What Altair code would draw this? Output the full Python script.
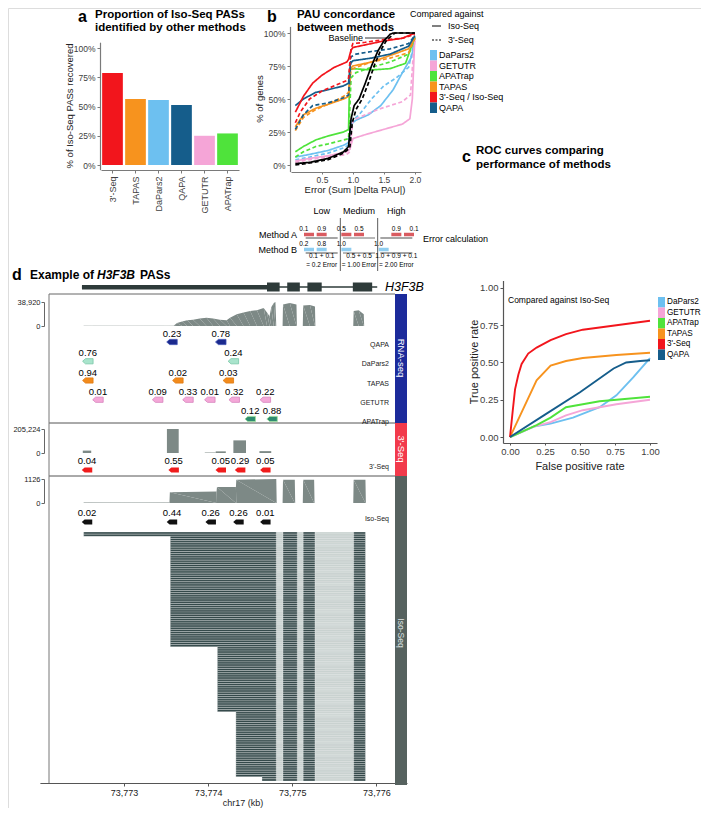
import altair as alt
import pandas as pd

W, H = 693, 800
FONT = "Liberation Sans"


def P(v):
    # page pixel -> chart pixel (page has an 8px margin)
    return v - 8


# ======================= DATA =======================
# (a) proportion of Iso-Seq PASs identified by other methods
a_methods = ["3'-Seq", "TAPAS", "DaPars2", "QAPA", "GETUTR", "APATrap"]
a_recovered = [0.786, 0.564, 0.556, 0.513, 0.25, 0.27]

legend_b = ["DaPars2", "GETUTR", "APATrap", "TAPAS", "3'-Seq / Iso-Seq", "QAPA"]
legend_c = ["DaPars2", "GETUTR", "APATrap", "TAPAS", "3'-Seq", "QAPA"]
method_colors = ["#6dc0f0", "#f5a5d7", "#4fe33b", "#f7931e", "#f2151c", "#155d8b"]

# (b) PAU concordance: cumulative share of genes vs error
b_3seq_iso_x = [0.07, 0.2, 0.35, 0.5, 0.7, 0.9, 0.93, 0.97, 1.0, 1.2, 1.5, 1.8, 2.0]
b_3seq_iso_y = [0.40, 0.52, 0.62, 0.68, 0.74, 0.78, 0.80, 0.87, 0.89, 0.91, 0.94, 0.96, 1.0]
b_3seq_3seq_x = [0.07, 0.15, 0.3, 0.5, 0.7, 0.9, 0.93, 0.97, 1.0, 1.2, 1.5, 1.8, 2.0]
b_3seq_3seq_y = [0.32, 0.40, 0.50, 0.56, 0.60, 0.64, 0.66, 0.88, 0.92, 0.93, 0.95, 0.96, 0.99]
b_qapa_iso_x = [0.07, 0.2, 0.4, 0.6, 0.85, 0.93, 0.96, 1.0, 1.3, 1.6, 1.9, 2.0]
b_qapa_iso_y = [0.45, 0.50, 0.55, 0.57, 0.60, 0.62, 0.77, 0.79, 0.81, 0.84, 0.90, 0.98]
b_qapa_3seq_x = [0.07, 0.2, 0.35, 0.6, 0.85, 0.93, 0.97, 1.05, 1.3, 1.6, 1.9, 2.0]
b_qapa_3seq_y = [0.27, 0.38, 0.45, 0.47, 0.51, 0.53, 0.82, 0.84, 0.86, 0.88, 0.92, 0.98]
b_tapas_iso_x = [0.07, 0.2, 0.4, 0.6, 0.85, 0.93, 0.96, 1.0, 1.3, 1.6, 1.9, 2.0]
b_tapas_iso_y = [0.29, 0.38, 0.43, 0.46, 0.50, 0.52, 0.73, 0.75, 0.78, 0.83, 0.88, 0.96]
b_tapas_3seq_x = [0.07, 0.2, 0.4, 0.6, 0.85, 0.93, 0.97, 1.05, 1.3, 1.6, 1.9, 2.0]
b_tapas_3seq_y = [0.26, 0.36, 0.42, 0.46, 0.52, 0.55, 0.72, 0.74, 0.78, 0.81, 0.85, 0.96]
b_apatrap_iso_x = [0.07, 0.2, 0.4, 0.6, 0.85, 0.93, 0.95, 1.0, 1.3, 1.6, 1.85, 2.0]
b_apatrap_iso_y = [0.10, 0.14, 0.19, 0.22, 0.25, 0.27, 0.72, 0.73, 0.72, 0.73, 0.77, 0.97]
b_apatrap_3seq_x = [0.07, 0.2, 0.4, 0.6, 0.85, 0.93, 0.97, 1.05, 1.3, 1.6, 1.9, 2.0]
b_apatrap_3seq_y = [0.06, 0.10, 0.14, 0.16, 0.19, 0.20, 0.66, 0.70, 0.74, 0.78, 0.84, 0.96]
b_dapars_iso_x = [0.07, 0.3, 0.6, 0.85, 0.93, 0.97, 1.05, 1.25, 1.45, 1.65, 1.8, 1.95, 2.0]
b_dapars_iso_y = [0.06, 0.08, 0.11, 0.15, 0.17, 0.31, 0.34, 0.38, 0.45, 0.57, 0.70, 0.82, 0.97]
b_dapars_3seq_x = [0.07, 0.3, 0.6, 0.85, 0.93, 0.97, 1.1, 1.3, 1.5, 1.7, 1.9, 2.0]
b_dapars_3seq_y = [0.04, 0.06, 0.09, 0.13, 0.15, 0.33, 0.38, 0.50, 0.60, 0.66, 0.74, 0.95]
b_getutr_iso_x = [0.07, 0.3, 0.6, 0.9, 0.95, 1.0, 1.2, 1.5, 1.8, 1.92, 1.96, 2.0]
b_getutr_iso_y = [0.03, 0.05, 0.07, 0.10, 0.12, 0.20, 0.23, 0.27, 0.31, 0.35, 0.50, 0.97]
b_getutr_3seq_x = [0.07, 0.3, 0.6, 0.9, 0.95, 1.0, 1.2, 1.4, 1.6, 1.8, 1.93, 1.97, 2.0]
b_getutr_3seq_y = [0.02, 0.04, 0.06, 0.08, 0.10, 0.34, 0.38, 0.42, 0.45, 0.48, 0.53, 0.80, 0.95]
b_base_iso_x = [0.07, 0.3, 0.6, 0.85, 0.93, 0.97, 1.02, 1.1, 1.2, 1.3, 1.4, 1.5, 1.6, 1.65, 2.0]
b_base_iso_y = [0.01, 0.02, 0.05, 0.10, 0.14, 0.35, 0.45, 0.50, 0.62, 0.75, 0.86, 0.94, 0.99, 1.0, 1.0]
b_base_3seq_x = [0.07, 0.3, 0.6, 0.85, 0.95, 0.99, 1.05, 1.15, 1.25, 1.35, 1.45, 1.55, 1.68, 2.0]
b_base_3seq_y = [0.0, 0.015, 0.04, 0.09, 0.13, 0.32, 0.42, 0.50, 0.62, 0.76, 0.87, 0.95, 1.0, 1.0]

# error-calculation example
diag_cols = ["Low", "Medium", "High"]
diag_col = ["Low", "Low", "Low", "Low", "Medium", "Medium", "Medium", "High", "High", "High"]
diag_method = ["Method A", "Method A", "Method B", "Method B", "Method A", "Method A",
               "Method B", "Method A", "Method A", "Method B"]
diag_isoform = [1, 2, 1, 2, 1, 2, 1, 2, 3, 1]
diag_pau = [0.1, 0.9, 0.2, 0.8, 0.5, 0.5, 1.0, 0.9, 0.1, 1.0]
diag_formula = ["0.1 + 0.1\n= 0.2 Error", "0.5 + 0.5\n= 1.00 Error", "1.0 + 0.9 + 0.1\n= 2.00 Error"]

# (c) ROC curves vs Iso-Seq
c_3seq_fpr = [0, 0.02, 0.036, 0.06, 0.083, 0.13, 0.19, 0.29, 0.40, 0.52, 0.76, 1.0]
c_3seq_tpr = [0, 0.18, 0.32, 0.42, 0.49, 0.56, 0.60, 0.65, 0.69, 0.72, 0.75, 0.78]
c_tapas_fpr = [0, 0.19, 0.29, 0.40, 0.52, 0.76, 1.0]
c_tapas_tpr = [0, 0.38, 0.48, 0.51, 0.53, 0.55, 0.565]
c_qapa_fpr = [0, 0.25, 0.5, 0.74, 0.83, 0.93, 1.0]
c_qapa_tpr = [0, 0.15, 0.30, 0.46, 0.50, 0.51, 0.515]
c_dapars_fpr = [0, 0.17, 0.29, 0.45, 0.64, 0.76, 0.88, 1.0]
c_dapars_tpr = [0, 0.07, 0.09, 0.13, 0.20, 0.28, 0.40, 0.53]
c_apatrap_fpr = [0, 0.19, 0.29, 0.40, 0.52, 0.64, 0.76, 1.0]
c_apatrap_tpr = [0, 0.08, 0.13, 0.20, 0.22, 0.24, 0.25, 0.27]
c_getutr_fpr = [0, 0.17, 0.29, 0.40, 0.52, 0.76, 1.0]
c_getutr_tpr = [0, 0.07, 0.10, 0.145, 0.18, 0.22, 0.25]

# (d) H3F3B locus (chr17, kb)
gene_start, gene_end = 73772.50, 73776.01
exon_start = [73774.70, 73774.94, 73775.18, 73775.72]
exon_end = [73774.85, 73775.09, 73775.35, 73775.95]

rna_cov_kb = [73772.52, 73773.59, 73773.63, 73773.69, 73773.75, 73773.82, 73773.90, 73773.98,
              73774.06, 73774.14, 73774.22, 73774.26, 73774.34, 73774.42, 73774.50, 73774.58,
              73774.66, 73774.70, 73774.73, 73774.75, 73774.78, 73774.80, 73774.81, 73774.885,
              73774.89, 73774.97, 73775.05, 73775.055, 73775.125, 73775.13, 73775.21, 73775.27,
              73775.275, 73775.725, 73775.73, 73775.79, 73775.85, 73775.855]
rna_cov_reads = [390, 390, 4670, 7400, 9340, 10100, 12100, 13200, 12100, 10100, 9340, 13200,
                 19100, 21800, 24500, 25700, 29200, 21800, 15960, 30360, 37360, 38920, 0, 0,
                 35030, 37360, 35030, 0, 0, 33080, 33860, 31530, 0, 0, 24520, 25690, 19070, 0]

three_cov_start = [73772.51, 73773.51, 73773.96, 73774.09, 73774.30, 73774.61]
three_cov_end = [73772.61, 73773.65, 73774.09, 73774.21, 73774.45, 73774.75]
three_cov_reads = [20500, 205224, 4000, 14000, 108000, 16000]

iso_cov_kb = [73772.52, 73773.54, 73773.545, 73774.10, 73774.105, 73774.33, 73774.335, 73774.81,
              73774.815, 73774.885, 73774.89, 73775.03, 73775.035, 73775.125, 73775.13, 73775.26,
              73775.265, 73775.725, 73775.73, 73775.87, 73775.875]
iso_cov_reads = [20, 20, 504, 540, 756, 756, 1092, 1126, 0, 0, 1092, 1092, 0, 0, 1092, 1092,
                 0, 0, 1092, 1092, 0]

rna_tracks = ["QAPA", "DaPars2", "TAPAS", "GETUTR", "APATrap"]
qapa_kb, qapa_pau = [73773.57, 73774.15], [0.23, 0.78]
dapars_kb, dapars_pau = [73772.57, 73774.30], [0.76, 0.24]
tapas_kb, tapas_pau = [73772.57, 73773.64, 73774.24], [0.94, 0.02, 0.03]
getutr_kb = [73772.69, 73773.40, 73773.76, 73774.02, 73774.31, 73774.68]
getutr_pau = [0.01, 0.09, 0.33, 0.01, 0.32, 0.22]
apatrap_kb, apatrap_pau = [73774.50, 73774.76], [0.12, 0.88]
three_kb = [73772.56, 73773.59, 73774.15, 73774.38, 73774.68]
three_pau = [0.04, 0.55, 0.05, 0.29, 0.05]
iso_kb = [73772.56, 73773.57, 73774.03, 73774.36, 73774.68]
iso_pau = [0.02, 0.44, 0.26, 0.26, 0.01]

track_fill = ["#1b2a8e", "#a9e4cc", "#f28b1c", "#f4a8d8", "#2f8c70"]
track_stroke = ["#3a4cb0", "#77c6a6", "#e07a10", "#d782bd", "#9de09a"]

iso_read_start = [73772.52, 73773.55, 73774.11, 73774.33, 73774.64]
iso_read_count = [2, 51, 30, 30, 2]
iso_read_end = 73775.87
intron_start = [73774.81, 73775.06, 73775.27]
intron_end = [73774.89, 73775.13, 73775.73]


# ======================= HELPERS =======================
def lin(domain, rng):
    return alt.Scale(domain=domain, range=rng, nice=False, zero=False)


def ax(**kw):
    base = dict(grid=False, title=None, labelFont=FONT, labelFontSize=8.5, labelColor="#404040",
                domainColor="#7a7a7a", domainWidth=1.2, tickColor="#7a7a7a", tickWidth=1,
                tickSize=3, labelPadding=2, labelFlush=False, labelOverlap=False)
    base.update(kw)
    return alt.Axis(**base)


def note(text, x, y, size=9, weight="normal", align="left", baseline="middle", angle=0,
         color="#000000", style="normal"):
    return alt.Chart(pd.DataFrame({"label": [text]})).mark_text(
        font=FONT, fontSize=size, fontWeight=weight, fontStyle=style, align=align,
        baseline=baseline, angle=angle, color=color).encode(
        x=alt.value(P(x)), y=alt.value(P(y)), text="label:N")


def hline(x1, x2, y, color="#555555", width=1.0):
    return alt.Chart(pd.DataFrame({"k": [0]})).mark_rule(color=color, strokeWidth=width).encode(
        x=alt.value(P(x1)), x2=alt.value(P(x2)), y=alt.value(P(y)))


def vline(x, y1, y2, color="#555555", width=1.0):
    return alt.Chart(pd.DataFrame({"k": [0]})).mark_rule(color=color, strokeWidth=width).encode(
        x=alt.value(P(x)), y=alt.value(P(y1)), y2=alt.value(P(y2)))


def box(x1, y1, x2, y2, fill):
    return alt.Chart(pd.DataFrame({"k": [0]})).mark_rect(fill=fill).encode(
        x=alt.value(P(x1)), x2=alt.value(P(x2)), y=alt.value(P(y1)), y2=alt.value(P(y2)))


layers = []

# ======================= PANEL A =======================
a_df = pd.DataFrame({"method": a_methods, "recovered": a_recovered})
layers.append(alt.Chart(a_df).mark_bar().encode(
    x=alt.X("method:N", sort=None,
            scale=alt.Scale(domain=a_methods, range=[P(101), P(239)], paddingInner=0.1, paddingOuter=0.05),
            axis=ax(orient="bottom", offset=P(170) - H, labelAngle=270, labelAlign="right",
                    labelBaseline="middle", labelFontSize=9, labelPadding=3)),
    y=alt.Y("recovered:Q", scale=lin([-0.04, 1.05], [P(169.7), P(42.2)]),
            axis=ax(orient="left", offset=-P(100), values=[0, 0.25, 0.5, 0.75, 1.0], format=".0%")),
    y2=alt.datum(0),
    color=alt.Color("method:N", scale=alt.Scale(domain=legend_c, range=method_colors), legend=None),
))
layers += [
    note("a", 78, 17, size=16, weight="bold"),
    note("Proportion of Iso-Seq PASs", 95, 15, size=11.5, weight="bold"),
    note("identified by other methods", 95, 27.5, size=11.5, weight="bold"),
    note("% of Iso-Seq PASs recovered", 70, 106, size=9.5, angle=270, align="center", color="#222222"),
]

# ======================= PANEL B =======================
b_series = [
    ("DaPars2", "Iso-Seq", b_dapars_iso_x, b_dapars_iso_y),
    ("DaPars2", "3'-Seq", b_dapars_3seq_x, b_dapars_3seq_y),
    ("GETUTR", "Iso-Seq", b_getutr_iso_x, b_getutr_iso_y),
    ("GETUTR", "3'-Seq", b_getutr_3seq_x, b_getutr_3seq_y),
    ("APATrap", "Iso-Seq", b_apatrap_iso_x, b_apatrap_iso_y),
    ("APATrap", "3'-Seq", b_apatrap_3seq_x, b_apatrap_3seq_y),
    ("TAPAS", "Iso-Seq", b_tapas_iso_x, b_tapas_iso_y),
    ("TAPAS", "3'-Seq", b_tapas_3seq_x, b_tapas_3seq_y),
    ("QAPA", "Iso-Seq", b_qapa_iso_x, b_qapa_iso_y),
    ("QAPA", "3'-Seq", b_qapa_3seq_x, b_qapa_3seq_y),
    ("3'-Seq / Iso-Seq", "Iso-Seq", b_3seq_iso_x, b_3seq_iso_y),
    ("3'-Seq / Iso-Seq", "3'-Seq", b_3seq_3seq_x, b_3seq_3seq_y),
]
b_rows = []
for k, (m, comp, xs, ys) in enumerate(b_series):
    for i, (xv, yv) in enumerate(zip(xs, ys)):
        b_rows.append({"series": k, "method": m, "comp": comp, "err": xv, "pct": yv, "i": i})
b_df = pd.DataFrame(b_rows)
base_rows = []
for k, (comp, xs, ys) in enumerate([("Iso-Seq", b_base_iso_x, b_base_iso_y),
                                     ("3'-Seq", b_base_3seq_x, b_base_3seq_y)]):
    for i, (xv, yv) in enumerate(zip(xs, ys)):
        base_rows.append({"series": k, "comp": comp, "err": xv, "pct": yv, "i": i})
base_df = pd.DataFrame(base_rows)

b_xs = lin([0.0, 2.1], [P(291), P(421)])
b_ys = lin([-0.05, 1.05], [P(171.6), P(26.4)])
dash_scale = alt.Scale(domain=["Iso-Seq", "3'-Seq"], range=[[1, 0], [4, 2.5]])

layers.append(alt.Chart(b_df).mark_line(strokeWidth=1.7).encode(
    x=alt.X("err:Q", scale=b_xs,
            axis=ax(orient="bottom", offset=P(172) - H, values=[0.5, 1.0, 1.5, 2.0], format=".1f",
                    tickSize=2, labelPadding=1)),
    y=alt.Y("pct:Q", scale=b_ys,
            axis=ax(orient="left", offset=-P(290), values=[0, 0.25, 0.5, 0.75, 1.0], format=".0%")),
    color=alt.Color("method:N", scale=alt.Scale(domain=legend_b, range=method_colors), legend=None),
    strokeDash=alt.StrokeDash("comp:N", scale=dash_scale, legend=None),
    detail="series:N",
    order="i:Q",
))
layers.append(alt.Chart(base_df).mark_line(strokeWidth=1.7, color="#000000").encode(
    x=alt.X("err:Q", scale=b_xs, axis=None),
    y=alt.Y("pct:Q", scale=b_ys, axis=None),
    strokeDash=alt.StrokeDash("comp:N", scale=dash_scale, legend=None),
    detail="series:N",
    order="i:Q",
))
layers += [
    note("b", 267, 17, size=16, weight="bold"),
    note("PAU concordance", 297, 15, size=11.5, weight="bold"),
    note("between methods", 297, 27.5, size=11.5, weight="bold"),
    note("Baseline", 363, 38, size=9, align="right"),
    hline(365, 388, 38, color="#000000", width=0.8),
    note("% of genes", 260, 99, size=9.5, angle=270, align="center", color="#222222"),
    note("Error (Sum |Delta PAU|)", 355, 190, size=9.5, align="center", color="#222222"),
    note("Compared against", 410, 14, size=9),
]
# legend for comparison (line type)
cmp_df = pd.DataFrame({"comp": ["Iso-Seq", "3'-Seq"]})
cmp_y = alt.Scale(type="point", domain=["Iso-Seq", "3'-Seq"], range=[P(26), P(40)], padding=0)
layers.append(alt.Chart(cmp_df).mark_rule(color="#000000", strokeWidth=1).encode(
    x=alt.value(P(432)), x2=alt.value(P(441)),
    y=alt.Y("comp:N", scale=cmp_y, axis=None),
    strokeDash=alt.StrokeDash("comp:N", scale=alt.Scale(domain=["Iso-Seq", "3'-Seq"], range=[[1, 0], [2, 1.5]]),
                              legend=None),
))
layers.append(alt.Chart(cmp_df).mark_text(font=FONT, fontSize=9, align="left").encode(
    x=alt.value(P(448)), y=alt.Y("comp:N", scale=cmp_y, axis=None), text="comp:N"))
# colour legend
leg_b_df = pd.DataFrame({"method": legend_b})
leg_b_y = alt.Scale(domain=legend_b, range=[P(50), P(113)], paddingInner=0, paddingOuter=0)
layers.append(alt.Chart(leg_b_df).mark_rect().encode(
    x=alt.value(P(430)), x2=alt.value(P(437)),
    y=alt.Y("method:N", scale=leg_b_y, sort=None, axis=None),
    color=alt.Color("method:N", scale=alt.Scale(domain=legend_b, range=method_colors), legend=None),
))
layers.append(alt.Chart(leg_b_df).mark_text(font=FONT, fontSize=9, align="left").encode(
    x=alt.value(P(439)), y=alt.Y("method:N", scale=leg_b_y, sort=None, axis=None), text="method:N"))

# ---------- error calculation diagram ----------
diag_df = pd.DataFrame({"col": diag_col, "method": diag_method, "iso": diag_isoform, "pau": diag_pau})
diag_x = alt.Scale(domain=diag_cols, range=[P(303), P(415)], paddingInner=0, paddingOuter=0)
diag_y = alt.Scale(domain=["Method A", "Method B"], range=[P(227), P(257)], paddingInner=0, paddingOuter=0)
diag_off = alt.Scale(domain=[1, 2, 3], paddingInner=0.15, paddingOuter=0.05)
layers.append(alt.Chart(diag_df).mark_tick(orient="horizontal", size=10, thickness=3.5).encode(
    x=alt.X("col:N", scale=diag_x, axis=None),
    xOffset=alt.XOffset("iso:O", scale=diag_off),
    y=alt.Y("method:N", scale=diag_y, axis=None),
    color=alt.Color("method:N", scale=alt.Scale(domain=["Method A", "Method B"], range=["#c9161d", "#5fb8ea"]),
                    legend=None),
))
layers.append(alt.Chart(diag_df).mark_text(font=FONT, fontSize=6.5, dy=-6).encode(
    x=alt.X("col:N", scale=diag_x, axis=None),
    xOffset=alt.XOffset("iso:O", scale=diag_off),
    y=alt.Y("method:N", scale=diag_y, axis=None),
    text=alt.Text("pau:Q", format=".1f"),
))
under_df = pd.DataFrame({"col": [c for c in diag_cols for _ in range(2)],
                         "method": ["Method A", "Method B"] * 3})
layers.append(alt.Chart(under_df).mark_tick(orient="horizontal", size=32, thickness=0.8, yOffset=3.5,
                                            color="#000000").encode(
    x=alt.X("col:N", scale=diag_x, axis=None),
    y=alt.Y("method:N", scale=diag_y, axis=None),
))
layers.append(alt.Chart(pd.DataFrame({"method": ["Method A", "Method B"]})).mark_text(
    font=FONT, fontSize=9, align="right").encode(
    x=alt.value(P(297)), y=alt.Y("method:N", scale=diag_y, axis=None), text="method:N"))
layers.append(alt.Chart(pd.DataFrame({"col": diag_cols})).mark_text(font=FONT, fontSize=9).encode(
    x=alt.X("col:N", scale=diag_x, axis=None), y=alt.value(P(211)), text="col:N"))
layers.append(alt.Chart(pd.DataFrame({"col": ["Medium", "High"]})).mark_rule(color="#333333", strokeWidth=0.8).encode(
    x=alt.X("col:N", scale=diag_x, axis=None, bandPosition=0), y=alt.value(P(218)), y2=alt.value(P(271))))
layers.append(alt.Chart(pd.DataFrame({"col": diag_cols, "f": diag_formula})).mark_text(
    font=FONT, fontSize=6.5, baseline="top", lineBreak="\n", lineHeight=9).encode(
    x=alt.X("col:N", scale=diag_x, axis=None), y=alt.value(P(253)), text="f:N"))
layers.append(note("Error calculation", 423, 239, size=9))

# ======================= PANEL C =======================
c_series = [("DaPars2", c_dapars_fpr, c_dapars_tpr), ("GETUTR", c_getutr_fpr, c_getutr_tpr),
            ("APATrap", c_apatrap_fpr, c_apatrap_tpr), ("TAPAS", c_tapas_fpr, c_tapas_tpr),
            ("3'-Seq", c_3seq_fpr, c_3seq_tpr), ("QAPA", c_qapa_fpr, c_qapa_tpr)]
c_rows = []
for m, xs, ys in c_series:
    for i, (xv, yv) in enumerate(zip(xs, ys)):
        c_rows.append({"method": m, "fpr": xv, "tpr": yv, "i": i})
c_df = pd.DataFrame(c_rows)
layers.append(alt.Chart(c_df).mark_line(strokeWidth=1.9).encode(
    x=alt.X("fpr:Q", scale=lin([-0.05, 1.05], [P(503), P(657)]),
            axis=ax(orient="bottom", offset=P(443) - H, values=[0, 0.25, 0.5, 0.75, 1.0], format=".2f",
                    labelFontSize=9.5, domainColor="#555555", tickColor="#555555", tickSize=2,
                    labelPadding=1)),
    y=alt.Y("tpr:Q", scale=lin([-0.04, 1.05], [P(443), P(280.5)]),
            axis=ax(orient="left", offset=-P(503), values=[0, 0.25, 0.5, 0.75, 1.0], format=".2f",
                    labelFontSize=9.5, domainColor="#555555", tickColor="#555555")),
    color=alt.Color("method:N", scale=alt.Scale(domain=legend_c, range=method_colors), legend=None),
    order="i:Q",
))
leg_c_df = pd.DataFrame({"method": legend_c})
leg_c_y = alt.Scale(domain=legend_c, range=[P(297), P(360)], paddingInner=0, paddingOuter=0)
layers.append(alt.Chart(leg_c_df).mark_rect().encode(
    x=alt.value(P(658)), x2=alt.value(P(665)),
    y=alt.Y("method:N", scale=leg_c_y, sort=None, axis=None),
    color=alt.Color("method:N", scale=alt.Scale(domain=legend_c, range=method_colors), legend=None),
))
layers.append(alt.Chart(leg_c_df).mark_text(font=FONT, fontSize=8.2, align="left").encode(
    x=alt.value(P(667)), y=alt.Y("method:N", scale=leg_c_y, sort=None, axis=None), text="method:N"))
layers += [
    note("c", 462, 157, size=16, weight="bold"),
    note("ROC curves comparing", 476, 151, size=11.5, weight="bold"),
    note("performance of methods", 476, 165, size=11.5, weight="bold"),
    note("Compared against Iso-Seq", 508, 300, size=8.5),
    note("True positive rate", 475, 362, size=11, angle=270, align="center", color="#222222"),
    note("False positive rate", 580, 467, size=11, align="center", color="#222222"),
]

# ======================= PANEL D =======================
d_x = lin([73772.0, 73776.364], [P(39.9), P(407)])
AX_Y = 783

# frame, strips
layers += [
    box(395, 294, 407, 423, "#1c2b9b"),
    box(395, 423, 407, 476, "#f23a4b"),
    box(395, 476, 407, 785, "#56625f"),
    hline(49, 395, 294, color="#666666"),
    hline(49, 395, 423, color="#555555"),
    hline(49, 395, 476, color="#555555"),
    vline(49, 294, AX_Y, color="#777777"),
    note("RNA-seq", 401, 358, size=9.5, angle=90, align="center", color="#ffffff"),
    note("3'-Seq", 401, 449, size=9.5, angle=90, align="center", color="#ffffff"),
    note("Iso-Seq", 401, 633, size=8.5, angle=90, align="center", color="#dde3e2"),
]

# gene model
gene_df = pd.DataFrame({"s": [gene_start], "e": [gene_end]})
layers.append(alt.Chart(gene_df).mark_rule(color="#2e3b3a", strokeWidth=1.5).encode(
    x=alt.X("s:Q", scale=d_x, axis=None), x2="e:Q", y=alt.value(P(287))))
layers.append(alt.Chart(pd.DataFrame({"s": [gene_start], "e": [exon_start[0]]})).mark_rect(color="#2e3b3a").encode(
    x=alt.X("s:Q", scale=d_x, axis=None), x2="e:Q", y=alt.value(P(285)), y2=alt.value(P(289.5))))
layers.append(alt.Chart(pd.DataFrame({"s": exon_start, "e": exon_end})).mark_rect(color="#2e3b3a").encode(
    x=alt.X("s:Q", scale=d_x, axis=None), x2="e:Q", y=alt.value(P(282.5)), y2=alt.value(P(291.5))))
layers.append(note("H3F3B", 385, 287, size=12.5, style="italic"))
layers += [
    note("d", 12, 275, size=16, weight="bold"),
    note("Example of ", 30, 275, size=12, weight="bold"),
    note("H3F3B", 97, 275, size=12, weight="bold", style="italic"),
    note("PASs", 140, 275, size=12, weight="bold"),
]

# coverage tracks
cov_axis = dict(orient="left", offset=-P(44), labelFontSize=7.5, labelColor="#222222", tickSize=3,
                labelPadding=1, domainColor="#666666", tickColor="#666666", domainWidth=1)
rna_cov_df = pd.DataFrame({"kb": rna_cov_kb, "reads": rna_cov_reads, "i": range(len(rna_cov_kb))})
layers.append(alt.Chart(rna_cov_df).mark_area(color="#7d8986", interpolate="linear").encode(
    x=alt.X("kb:Q", scale=d_x, axis=None),
    y=alt.Y("reads:Q", scale=lin([0, 38920], [P(326), P(302)]),
            axis=ax(values=[0, 38920], format=",d", **cov_axis)),
    order="i:Q"))
three_cov_df = pd.DataFrame({"s": three_cov_start, "e": three_cov_end, "reads": three_cov_reads})
layers.append(alt.Chart(three_cov_df).mark_rect(color="#7d8986").encode(
    x=alt.X("s:Q", scale=d_x, axis=None), x2="e:Q",
    y=alt.Y("reads:Q", scale=lin([0, 205224], [P(453), P(429)]),
            axis=ax(values=[0, 205224], format=",d", **cov_axis)),
    y2=alt.datum(0)))
iso_cov_df = pd.DataFrame({"kb": iso_cov_kb, "reads": iso_cov_reads, "i": range(len(iso_cov_kb))})
layers.append(alt.Chart(iso_cov_df).mark_area(color="#7d8986", interpolate="linear").encode(
    x=alt.X("kb:Q", scale=d_x, axis=None),
    y=alt.Y("reads:Q", scale=lin([0, 1126], [P(503), P(479)]),
            axis=ax(values=[0, 1126], format="d", **cov_axis)),
    order="i:Q"))

# PAS arrows
ARROW = "M -1 0 L -0.45 -0.5 L 1 -0.5 L 1 0.5 L -0.45 0.5 Z"
rna_rows = []
for t, kbs, vals in [("QAPA", qapa_kb, qapa_pau), ("DaPars2", dapars_kb, dapars_pau),
                     ("TAPAS", tapas_kb, tapas_pau), ("GETUTR", getutr_kb, getutr_pau),
                     ("APATrap", apatrap_kb, apatrap_pau)]:
    for kb, v in zip(kbs, vals):
        rna_rows.append({"track": t, "kb": kb, "pau": v})
rna_df = pd.DataFrame(rna_rows)
rna_y = alt.Scale(type="point", domain=rna_tracks, range=[P(342), P(419)], padding=0)
layers.append(alt.Chart(rna_df).mark_point(shape=ARROW, size=110, filled=True, opacity=1, strokeWidth=0.8).encode(
    x=alt.X("kb:Q", scale=d_x, axis=None),
    y=alt.Y("track:N", scale=rna_y, axis=None),
    fill=alt.Fill("track:N", scale=alt.Scale(domain=rna_tracks, range=track_fill), legend=None),
    stroke=alt.Stroke("track:N", scale=alt.Scale(domain=rna_tracks, range=track_stroke), legend=None),
))
layers.append(alt.Chart(rna_df).mark_text(font=FONT, fontSize=9.5, dy=-8).encode(
    x=alt.X("kb:Q", scale=d_x, axis=None),
    y=alt.Y("track:N", scale=rna_y, axis=None),
    text=alt.Text("pau:Q", format=".2f")))
layers.append(alt.Chart(pd.DataFrame({"track": rna_tracks})).mark_text(
    font=FONT, fontSize=7, align="right", dy=3, color="#222222").encode(
    x=alt.value(P(389)), y=alt.Y("track:N", scale=rna_y, axis=None), text="track:N"))

for name, kbs, vals, yc, col in [("3'-Seq", three_kb, three_pau, 470, "#f01c1c"),
                                 ("Iso-Seq", iso_kb, iso_pau, 522, "#111111")]:
    tdf = pd.DataFrame({"track": [name] * len(kbs), "kb": kbs, "pau": vals})
    ty = alt.Scale(type="point", domain=[name], range=[P(yc - 5), P(yc + 5)], padding=0.5)
    layers.append(alt.Chart(tdf).mark_point(shape=ARROW, size=110, filled=True, opacity=1,
                                            color=col, strokeWidth=0.5).encode(
        x=alt.X("kb:Q", scale=d_x, axis=None), y=alt.Y("track:N", scale=ty, axis=None)))
    layers.append(alt.Chart(tdf).mark_text(font=FONT, fontSize=9.5, dy=-9).encode(
        x=alt.X("kb:Q", scale=d_x, axis=None), y=alt.Y("track:N", scale=ty, axis=None),
        text=alt.Text("pau:Q", format=".2f")))
    layers.append(alt.Chart(pd.DataFrame({"track": [name]})).mark_text(
        font=FONT, fontSize=7, align="right", dy=-3, color="#222222").encode(
        x=alt.value(P(389)), y=alt.Y("track:N", scale=ty, axis=None), text="track:N"))

# Iso-Seq reads
read_rows, intron_rows = [], []
row = 0
for s, n in zip(iso_read_start, iso_read_count):
    for _ in range(n):
        read_rows.append({"s": s, "e": iso_read_end, "r": row, "r2": row + 1})
        for a, b in zip(intron_start, intron_end):
            intron_rows.append({"s": a, "e": b, "r": row, "r2": row + 1})
        row += 1
n_reads = row
reads_y = lin([0, n_reads], [P(532), P(781)])
layers.append(alt.Chart(pd.DataFrame(read_rows)).mark_rect(fill="#34494a", stroke="#ffffff", strokeWidth=0.3).encode(
    x=alt.X("s:Q", scale=d_x, axis=ax(orient="bottom", offset=P(AX_Y) - H,
                                      values=[73773, 73774, 73775, 73776], format=",d",
                                      labelFontSize=9, labelColor="#222222", domainColor="#555555",
                                      tickColor="#555555", domainWidth=1, labelPadding=2)),
    x2="e:Q",
    y=alt.Y("r:Q", scale=reads_y, axis=None), y2="r2:Q"))
layers.append(alt.Chart(pd.DataFrame(intron_rows)).mark_rect(fill="#c9d2d0", stroke="#ffffff", strokeWidth=0.3).encode(
    x=alt.X("s:Q", scale=d_x, axis=None), x2="e:Q",
    y=alt.Y("r:Q", scale=reads_y, axis=None), y2="r2:Q"))
layers.append(note("chr17 (kb)", 243, 803, size=9, align="center", color="#222222"))

chart = alt.layer(*layers).resolve_scale(
    x="independent", y="independent", color="independent", fill="independent",
    stroke="independent", strokeDash="independent", xOffset="independent",
).properties(
    width=W, height=H, autosize=alt.AutoSizeParams(type="none"), padding=0,
).configure_view(stroke=None).configure(font=FONT)

chart.save("out.html", embed_options={"renderer": "svg", "actions": False})
